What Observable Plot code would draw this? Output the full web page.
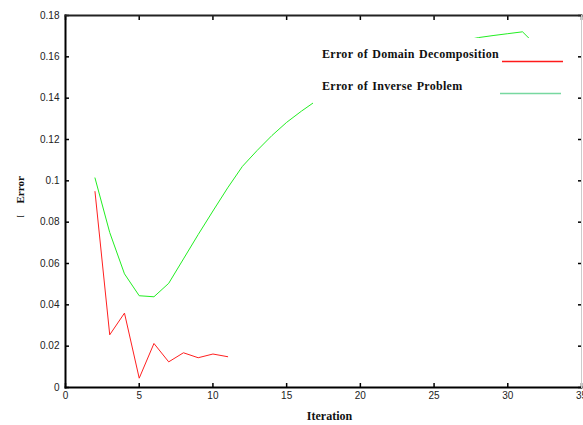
<!DOCTYPE html>
<html>
<head>
<meta charset="utf-8">
<script src="https://cdn.jsdelivr.net/npm/d3@7"></script>
<script src="https://cdn.jsdelivr.net/npm/@observablehq/plot@0.6"></script>
<style>
  body { margin: 0; background: #fff; }
  #wrap { position: relative; width: 583px; height: 425px; overflow: hidden; }
  #legend { position: absolute; left: 313px; top: 38px; width: 262px; height: 72px; background: #fff;
            font-family: "Liberation Serif", serif; font-weight: bold; font-size: 12px; color: #111; }
  .lt { position: absolute; left: 9px; white-space: nowrap; word-spacing: 1px; letter-spacing: 0.3px; }
  #legend svg { position: absolute; left: 0; top: 0; }
</style>
</head>
<body>
<div id="wrap"></div>
<script>
const iterDomain = [2, 3, 4, 5, 6, 7, 8, 9, 10, 11];
const errDomain = [0.0948, 0.0255, 0.036, 0.0045, 0.0213, 0.0124, 0.0168, 0.0144, 0.0162, 0.0149];

const iterInverse = [2, 3, 4, 5, 6, 7, 8, 9, 10, 11, 12, 13, 14, 15, 16, 17, 18, 19, 20, 21, 22, 23, 24, 25, 26, 27, 28, 29, 30, 31, 32, 33, 34];
const errInverse = [0.1014, 0.075, 0.055, 0.0444, 0.0439, 0.0504, 0.0622, 0.074, 0.0854, 0.0966, 0.107, 0.1147, 0.1219, 0.1283, 0.1337, 0.1387,
  0.143, 0.147, 0.151, 0.154, 0.157, 0.160, 0.162, 0.164, 0.166, 0.1678, 0.1693, 0.1703, 0.1712, 0.1721, 0.1650, 0.1660, 0.1685];

const xTicks = [0, 5, 10, 15, 20, 25, 30, 35];
const yTicks = [0, 0.02, 0.04, 0.06, 0.08, 0.1, 0.12, 0.14, 0.16, 0.18];

const legendLabels = ["Error of  Domain  Decomposition", "Error of Inverse Problem"];
const xLabel = "Iteration";
const yLabel = "Error";

const domainData = iterDomain.map((x, i) => ({x, y: errDomain[i]}));
const inverseData = iterInverse.map((x, i) => ({x, y: errInverse[i]}));

const chart = Plot.plot({
  width: 583,
  height: 425,
  marginLeft: 65,
  marginRight: 2,
  marginTop: 15,
  marginBottom: 38,
  style: {fontFamily: "'Liberation Sans', sans-serif", fontSize: "10px", color: "#222", background: "#fff"},
  x: {domain: [0, 35]},
  y: {domain: [0, 0.18]},
  marks: [
    Plot.lineY(inverseData, {x: "x", y: "y", stroke: "#22ee22", strokeWidth: 1}),
    Plot.lineY(domainData, {x: "x", y: "y", stroke: "#ff2020", strokeWidth: 1}),
    Plot.axisX({anchor: "bottom", ticks: xTicks, tickSize: -4, tickPadding: 8, label: null, stroke: "#000", strokeWidth: 1.5, fontSize: 10}),
    Plot.axisX({anchor: "top", ticks: xTicks, tickSize: -4, tickFormat: () => "", label: null, stroke: "#000", strokeWidth: 1.5}),
    Plot.axisY({anchor: "left", ticks: yTicks, tickSize: -4, tickPadding: 10, label: null, tickFormat: d => String(d), stroke: "#000", strokeWidth: 1.5}),
    Plot.axisY({anchor: "right", ticks: yTicks, tickSize: -4, tickFormat: () => "", label: null, stroke: "#000", strokeWidth: 1.5}),
    Plot.frame({anchor: "left", stroke: "#000", strokeWidth: 2}),
    Plot.frame({anchor: "bottom", stroke: "#000", strokeWidth: 2}),
    Plot.frame({anchor: "top", stroke: "#222", strokeWidth: 2}),
    Plot.frame({anchor: "right", stroke: "#ccc", strokeWidth: 1}),
    Plot.text([xLabel], {frameAnchor: "bottom", dy: 32, dx: 6, text: d => d, fontFamily: "'Liberation Serif', serif", fontWeight: "bold", fontSize: 12, fill: "#111"}),
    Plot.text([yLabel], {frameAnchor: "left", dx: -45, dy: 2, rotate: -90, text: d => d, fontFamily: "'Liberation Serif', serif", fontWeight: "bold", fontSize: 11, fill: "#111"}),
    Plot.text(["["], {frameAnchor: "left", dx: -45, dy: 16, rotate: -90, text: d => d, fontFamily: "'Liberation Serif', serif", fontSize: 8, fill: "#111"})
  ]
});

const wrap = document.getElementById("wrap");
wrap.appendChild(chart);

const legend = document.createElement("div");
legend.id = "legend";
const colors = ["#ff1a1a", "#77d8a0"];
const tops = [9, 41];
const ns = "http://www.w3.org/2000/svg";
const lsvg = document.createElementNS(ns, "svg");
lsvg.setAttribute("width", 262);
lsvg.setAttribute("height", 72);
legend.appendChild(lsvg);
legendLabels.forEach((lab, i) => {
  const t = document.createElement("div");
  t.className = "lt";
  t.style.top = tops[i] + "px";
  t.textContent = lab;
  legend.appendChild(t);
  const l = document.createElementNS(ns, "line");
  const x0 = i === 0 ? 189 : 187;
  l.setAttribute("x1", x0);
  l.setAttribute("x2", x0 + 61);
  l.setAttribute("y1", tops[i] + 14.5);
  l.setAttribute("y2", tops[i] + 14.5);
  l.setAttribute("stroke", colors[i]);
  l.setAttribute("stroke-width", 1.3);
  lsvg.appendChild(l);
});
wrap.appendChild(legend);
</script>
</body>
</html>
